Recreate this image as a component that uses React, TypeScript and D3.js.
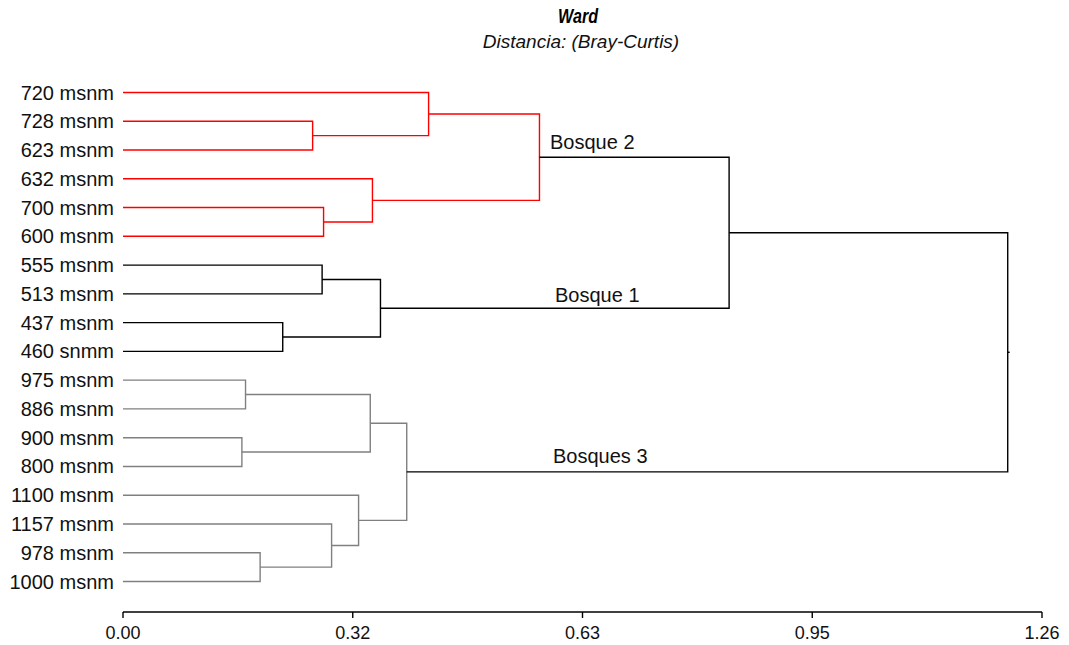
import React from "react";
import * as d3 from "d3";

// ---- Data ----
const leafLabels = [
  "720 msnm", "728 msnm", "623 msnm", "632 msnm", "700 msnm", "600 msnm",
  "555 msnm", "513 msnm", "437 msnm", "460 snmm",
  "975 msnm", "886 msnm", "900 msnm", "800 msnm", "1100 msnm", "1157 msnm", "978 msnm", "1000 msnm",
];

// Linkage: ids < 18 are leaves, id 18 + k is merge k
const mergeLeft = [1, 4, 3, 0, 21, 6, 8, 23, 10, 12, 26, 16, 15, 14, 28, 22, 33];
const mergeRight = [2, 5, 19, 18, 20, 7, 9, 24, 11, 13, 27, 17, 29, 30, 31, 25, 32];
const mergeHeight = [0.260, 0.275, 0.342, 0.419, 0.571, 0.273, 0.219, 0.353, 0.168, 0.163, 0.339, 0.188, 0.286, 0.323, 0.389, 0.831, 1.213];
const mergeGroup = ["b2", "b2", "b2", "b2", "b2", "b1", "b1", "b1", "b3", "b3", "b3", "b3", "b3", "b3", "b3", "top", "top"];

const xTickValues = [0, 0.315, 0.63, 0.945, 1.26];
const xTickLabels = ["0.00", "0.32", "0.63", "0.95", "1.26"];

const clusterLabels = ["Bosque 2", "Bosque 1", "Bosques 3"];

const titleText = "Ward";
const subtitleText = "Distancia: (Bray-Curtis)";

// ---- Styles / layout ----
const groupColor: Record<string, string> = { b2: "#ff0000", b1: "#000000", b3: "#808080", top: "#000000" };
const FONT = "'Liberation Sans', Arial, Helvetica, sans-serif";
const W = 1069, H = 645;
const clusterLabelPos = [
  { x: 550, y: 149 },
  { x: 555, y: 302 },
  { x: 553, y: 463 },
];

export default function App() {
  const x = d3.scaleLinear().domain([0, 1.26]).range([123, 1042]);
  const y = d3.scaleLinear().domain([0, leafLabels.length - 1]).range([92.5, 581.5]);

  const nodes: { x: number; y: number }[] = leafLabels.map((_, i) => ({ x: x(0), y: y(i) }));
  mergeHeight.forEach((h, k) => {
    const a = nodes[mergeLeft[k]], b = nodes[mergeRight[k]];
    nodes.push({ x: x(h), y: (a.y + b.y) / 2 });
  });

  const paths = mergeHeight.map((h, k) => {
    const a = nodes[mergeLeft[k]], b = nodes[mergeRight[k]];
    const xm = x(h);
    const p = d3.path();
    p.moveTo(a.x, a.y);
    p.lineTo(xm, a.y);
    p.lineTo(xm, b.y);
    p.lineTo(b.x, b.y);
    return { d: p.toString(), color: groupColor[mergeGroup[k]] };
  });
  const root = nodes[nodes.length - 1];
  const axisY = 612;

  return (
    <svg width={W} height={H} style={{ position: "absolute", left: 0, top: 0, background: "#fff" }} fontFamily={FONT}>
      <text x={578} y={23} textAnchor="middle" fontSize={20} fontWeight="bold" fontStyle="italic" textLength={40} lengthAdjust="spacingAndGlyphs">{titleText}</text>
      <text x={581} y={48} textAnchor="middle" fontSize={19} fontStyle="italic" fill="#111">{subtitleText}</text>

      {leafLabels.map((l, i) => (
        <text key={l + i} x={114} y={y(i)} dy="0.35em" textAnchor="end" fontSize={20} fill="#111">{l}</text>
      ))}

      <g fill="none" strokeWidth={1.4}>
        {paths.map((p, i) => (
          <path key={i} d={p.d} stroke={p.color} />
        ))}
        <line x1={root.x} x2={root.x + 2} y1={root.y} y2={root.y} stroke="#000" />
      </g>

      {clusterLabels.map((t, i) => (
        <text key={t} x={clusterLabelPos[i].x} y={clusterLabelPos[i].y} fontSize={20} fill="#111">{t}</text>
      ))}

      <g>
        <line x1={x(0)} x2={x(1.26)} y1={axisY} y2={axisY} stroke="#000" strokeWidth={1.5} />
        {xTickValues.map((v, i) => (
          <g key={v}>
            <line x1={x(v)} x2={x(v)} y1={axisY} y2={axisY + 6} stroke="#000" strokeWidth={1.4} />
            <text x={x(v)} y={639} textAnchor="middle" fontSize={18} fill="#111">{xTickLabels[i]}</text>
          </g>
        ))}
      </g>
    </svg>
  );
}
